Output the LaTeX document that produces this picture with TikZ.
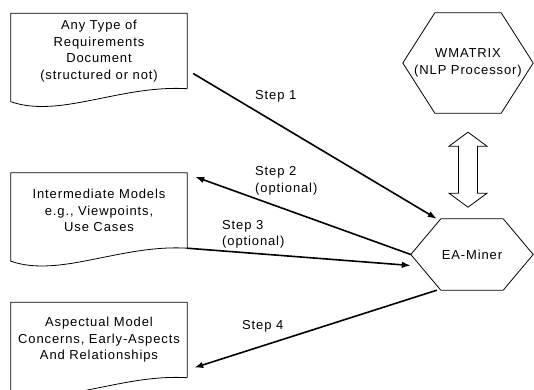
\documentclass[tikz,border=0pt]{standalone}
\usepackage{fontspec}
\setmainfont[LetterSpace=6.8]{Liberation Sans}
\usetikzlibrary{arrows.meta}

\tikzset{
  doc/.style={minimum width=176pt, minimum height=75pt, inner sep=0pt, align=center, font=\fontsize{13}{16.5}\selectfont},
  hexbox/.style={inner sep=0pt, align=center, font=\fontsize{13}{16.5}\selectfont},
  steplabel/.style={inner sep=0pt, align=left, anchor=west, font=\fontsize{13}{16.5}\selectfont},
  thinline/.style={line width=0.8pt, line join=miter},
  steparrow/.style={line width=1.6pt, -{Latex[length=9pt,width=6.5pt]}}
}
% outline of a document box: flat top, wavy bottom
\newcommand\docoutline[1]{\draw[thinline] (#1.south east) -- (#1.north east) -- (#1.north west) -- ([yshift=-13pt]#1.south west) .. controls +(49,17) and +(-67,-4) .. (#1.south east);}
% outline of a hexagon round a node
\newcommand\hexoutline[2]{\draw[thinline] (#1.west) -- ([xshift=#2]#1.north west) -- ([xshift=-#2]#1.north east) -- (#1.east) -- ([xshift=-#2]#1.south east) -- ([xshift=#2]#1.south west) -- cycle;}

\begin{document}
\begin{tikzpicture}[x=1pt, y=-1pt]
\useasboundingbox (0,0) rectangle (534,389);
%documents
\node[doc] (doc1) at (99,51) {Any Type of\\Requirements\\Document\\(structured or not)};
\node[doc] (doc2) at (99,210.5) {Intermediate Models\\e.g., Viewpoints,\\Use Cases};
\node[doc] (doc3) at (99,340) {Aspectual Model\\Concerns, Early-Aspects\\And Relationships};
\docoutline{doc1}
\docoutline{doc2}
\docoutline{doc3}
%hexagons
\node[hexbox, minimum width=130pt, minimum height=100pt] (wm) at (468,63) {WMATRIX\\(NLP Processor)};
\hexoutline{wm}{32pt}
\node[hexbox, minimum width=122pt, minimum height=71pt] (ea) at (472,254.5) {EA-Miner};
\hexoutline{ea}{30pt}
%fat double arrow
\draw[thinline] ([yshift=-19pt]wm.south) -- ++(-19,14) -- ++(9.5,0) -- ++(0,47) -- ++(-9.5,0) -- ++(19,14) -- ++(19,-14) -- ++(-9.5,0) -- ++(0,-47) -- ++(9.5,0) -- cycle;
%steps
\draw[steparrow] ([xshift=6pt,yshift=-22.5pt]doc1.east) -- ([xshift=26pt]ea.north west);
\draw[steparrow] (ea.west) -- ([xshift=8pt,yshift=-4pt]doc2.north east);
\draw[steparrow] (doc2.south east) -- ([yshift=-11pt]ea.west);
\draw[steparrow] ([xshift=26pt]ea.south west) -- ([xshift=7pt,yshift=10pt]doc3.south east);
%labels
\node[steplabel] (s1) at (255,96) {Step 1};
\node[steplabel] (s2) at (255,181) {Step 2\\(optional)};
\node[steplabel] (s3) at (222,234.5) {Step 3\\(optional)};
\node[steplabel] (s4) at (242,326) {Step 4};
\end{tikzpicture}
\end{document}
